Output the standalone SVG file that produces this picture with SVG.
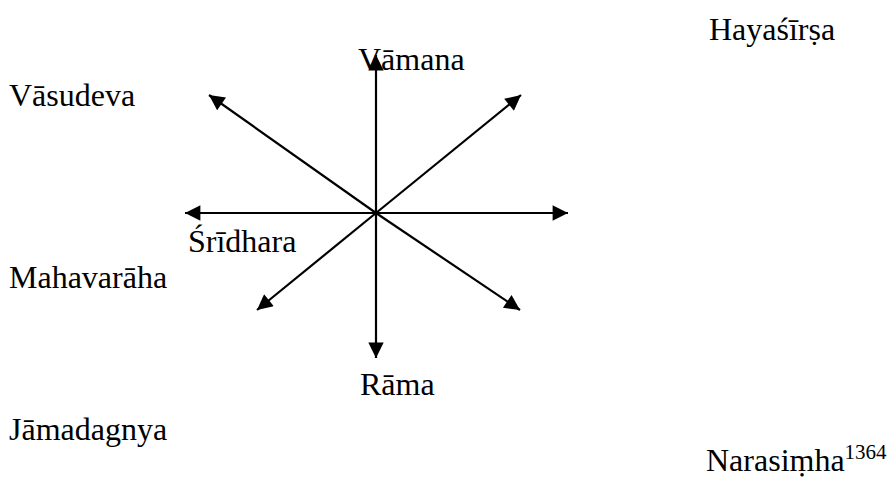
<svg xmlns="http://www.w3.org/2000/svg" width="891" height="479" viewBox="0 0 891 479">
<defs>
<style>
text{font-family:"Liberation Serif","Times New Roman",serif;font-size:32px;fill:#000}
.ar{stroke:#000;stroke-width:2.2;fill:none;marker-end:url(#ah)}
.sup{font-size:21px}
</style>
<marker id="ah" viewBox="0 0 10 10" refX="10" refY="5" markerWidth="9" markerHeight="7" markerUnits="strokeWidth" orient="auto">
<path d="M0,0L10,5L0,10z" fill="#000"/>
</marker>
</defs>
<rect width="891" height="479" fill="#fff"/>
<g id="connectors">
<line class="ar" x1="376" y1="213" x2="376" y2="55"/>
<line class="ar" x1="376" y1="213" x2="376" y2="358"/>
<line class="ar" x1="376" y1="213" x2="185" y2="213"/>
<line class="ar" x1="376" y1="213" x2="568" y2="213"/>
<line class="ar" x1="376" y1="213" x2="209" y2="95"/>
<line class="ar" x1="376" y1="213" x2="521" y2="95"/>
<line class="ar" x1="376" y1="213" x2="257" y2="310"/>
<line class="ar" x1="376" y1="213" x2="520" y2="310"/>
</g>
<g id="hayasirsa"><text x="709" y="40">Hayaśīrṣa</text></g>
<g id="vamana"><text x="358" y="70">Vāmana</text></g>
<g id="vasudeva"><text x="9" y="106">Vāsudeva</text></g>
<g id="sridhara"><text x="188" y="252">Śrīdhara</text></g>
<g id="mahavaraha"><text x="9" y="288">Mahavarāha</text></g>
<g id="rama"><text x="360" y="395">Rāma</text></g>
<g id="jamadagnya"><text x="9" y="440">Jāmadagnya</text></g>
<g id="narasimha"><text x="706" y="471">Narasiṃha<tspan class="sup" dy="-12">1364</tspan></text></g>
</svg>
